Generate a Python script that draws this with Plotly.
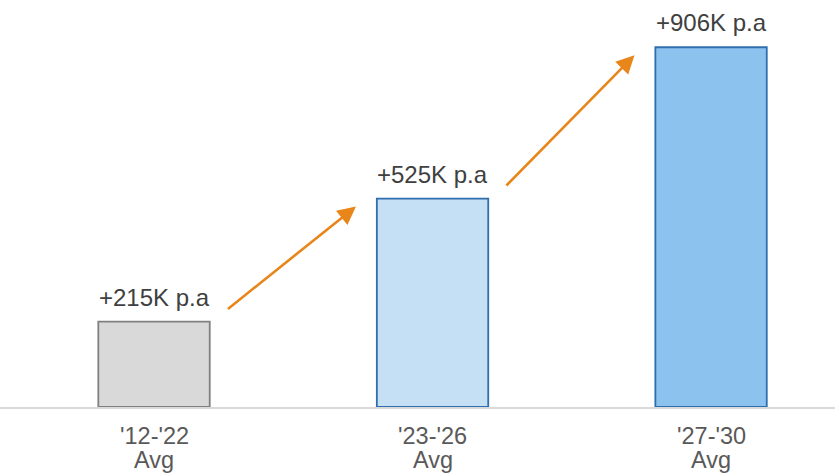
import plotly.graph_objects as go

# Average annual increase per period
periods = ["'12-'22", "'23-'26", "'27-'30"]
period_sub = ["Avg", "Avg", "Avg"]
values = [215, 525, 906]
labels = ["+215K p.a", "+525K p.a", "+906K p.a"]

fill_colors = ["#D9D9D9", "#C5DFF5", "#8CC2EE"]
line_colors = ["#808080", "#2F6EAE", "#2F6EAE"]

xs = list(range(len(values)))
FONT = "Liberation Sans, Arial, sans-serif"

fig = go.Figure()
fig.add_trace(go.Bar(
    x=xs, y=values, width=0.40,
    marker=dict(color=fill_colors, line=dict(color=line_colors, width=1.8)),
    hoverinfo="skip",
))

# Value labels above each bar
for x, v, t in zip(xs, values, labels):
    fig.add_annotation(x=x, y=v, text=t, showarrow=False, yanchor="bottom",
                       yshift=9, font=dict(size=24, color="#404040"))

# Two-line category labels under the axis
for x, p, s in zip(xs, periods, period_sub):
    fig.add_annotation(x=x, y=0, yref="paper", text=p, showarrow=False,
                       yanchor="top", yshift=-14,
                       font=dict(size=23.5, color="#595959"))
    fig.add_annotation(x=x, y=0, yref="paper", text=s, showarrow=False,
                       yanchor="top", yshift=-38,
                       font=dict(size=23.5, color="#595959"))

# Growth arrows between consecutive bars
for i in range(len(values) - 1):
    fig.add_annotation(
        x=i + 0.725, y=values[i + 1] - 20,
        ax=i + 0.26, ay=values[i] + 29,
        xref="x", yref="y", axref="x", ayref="y",
        text="", showarrow=True, arrowhead=2, arrowsize=1.4,
        arrowwidth=2.6, arrowcolor="#E8861A", standoff=0, startstandoff=0,
    )

fig.update_layout(
    width=835, height=476,
    margin=dict(l=0, r=0, t=0, b=69),
    paper_bgcolor="white", plot_bgcolor="white",
    showlegend=False,
    font=dict(family=FONT),
    xaxis=dict(
        range=[-0.553, 2.445], tickvals=xs, showticklabels=False,
        showgrid=False, zeroline=False, showline=True,
        linecolor="#D9D9D9", linewidth=2, ticks="",
        fixedrange=True,
    ),
    yaxis=dict(range=[0, 1025], visible=False, fixedrange=True),
)

fig.write_html("out.html")
